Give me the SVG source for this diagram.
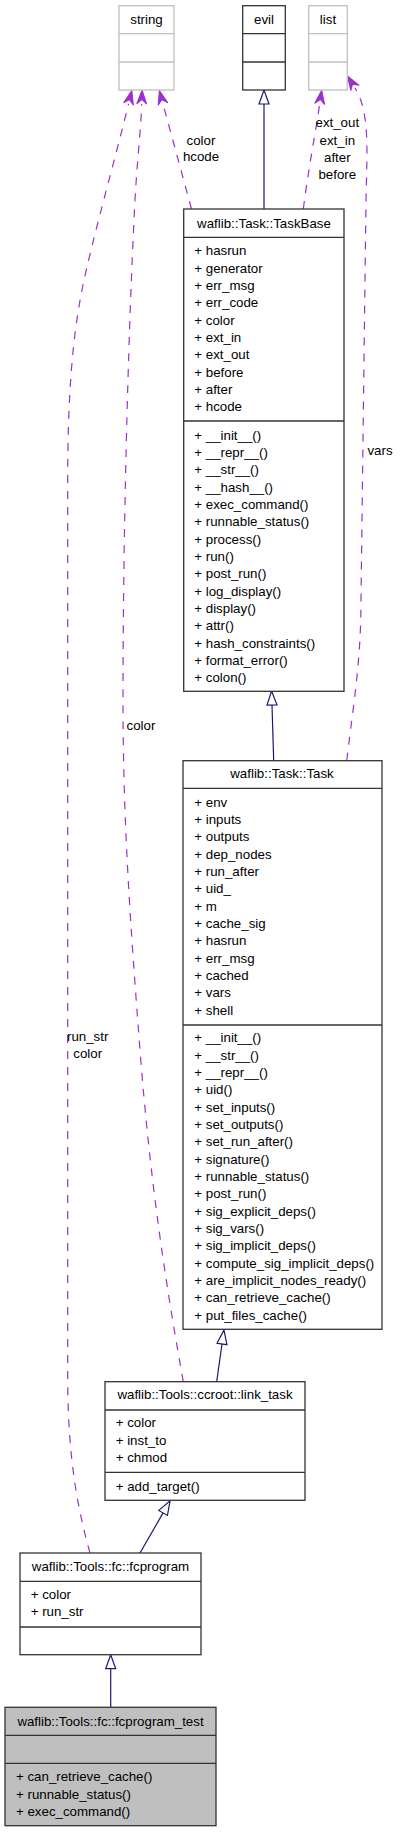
<svg xmlns="http://www.w3.org/2000/svg" width="400" height="1832" viewBox="0 0 400 1832">
<style>
text { font-family: "Liberation Sans", Arial, Helvetica, sans-serif; font-size: 13.3px; fill: #000; }
.c { text-anchor: middle; }
.box { fill: #fff; stroke: #333; stroke-width: 1.3; }
.sep { stroke: #333; stroke-width: 1.3; }
.gbox { fill: #fff; stroke: #bfbfbf; stroke-width: 1.3; }
.gsep { stroke: #bfbfbf; stroke-width: 1.3; }
.test { fill: #bfbfbf; stroke: #333; stroke-width: 1.3; }
.inh { fill: none; stroke: #191970; stroke-width: 1.2; }
.use { fill: none; stroke: #9a32cd; stroke-width: 1.2; stroke-dasharray: 8,8; }
</style>
<defs>
<marker id="hollow" markerUnits="userSpaceOnUse" markerWidth="16" markerHeight="12" refX="0" refY="6" orient="auto" overflow="visible">
<polygon points="0,1 14,6 0,11" fill="#fff" stroke="#191970" stroke-width="1.2"/>
</marker>
<marker id="vee" markerUnits="userSpaceOnUse" markerWidth="16" markerHeight="12" refX="0" refY="6" orient="auto" overflow="visible">
<polygon points="0,1 14,6 0,11 4.5,6" fill="#9a32cd" stroke="#9a32cd" stroke-width="1"/>
</marker>
</defs>

<g id="connectors">
<path class="inh" d="M264,209 L264,104" marker-end="url(#hollow)"/>
<path class="inh" d="M273.7,760.7 L272,705" marker-end="url(#hollow)"/>
<path class="inh" d="M216.7,1381.7 L222,1344" marker-end="url(#hollow)"/>
<path class="inh" d="M140,1553 L163.1,1512.9" marker-end="url(#hollow)"/>
<path class="inh" d="M110.7,1707.3 L110.7,1668.7" marker-end="url(#hollow)"/>

<path class="use" d="M191.5,209 L163,104" marker-end="url(#vee)"/>
<path class="use" d="M303.3,209 C309,165 316,130 319.7,104" marker-end="url(#vee)"/>
<path class="use" d="M346.7,760.7 C354,700 361,660 361,600 L366,200 C367,150 370,112 355,88" marker-end="url(#vee)"/>
<path class="use" d="M183.3,1381.7 C165,1280 150,1180 140,1050 C130,920 123,820 123,700 C123,500 130,300 134,220 C136,170 141,130 141.7,104" marker-end="url(#vee)"/>
<path class="use" d="M90,1553 C78,1510 68,1460 67.7,1380 L67.7,480 C67.7,400 72,340 82,290 C92,240 115,160 128.5,104" marker-end="url(#vee)"/>

<text class="c" x="201" y="144.7">color</text>
<text class="c" x="201" y="161.4">hcode</text>
<text class="c" x="337.3" y="127.4">ext_out</text>
<text class="c" x="337.3" y="144.7">ext_in</text>
<text class="c" x="337.3" y="161.7">after</text>
<text class="c" x="337.3" y="179">before</text>
<text class="c" x="380" y="455">vars</text>
<text class="c" x="141" y="730.4">color</text>
<text class="c" x="87.7" y="1040.7">run_str</text>
<text class="c" x="87.7" y="1057.7">color</text>
</g>

<g id="node-string">
<rect class="gbox" x="119" y="5.7" width="55" height="84.3"/>
<line class="gsep" x1="119" y1="33.7" x2="174" y2="33.7"/>
<line class="gsep" x1="119" y1="62" x2="174" y2="62"/>
<text class="c" x="146.5" y="23.5">string</text>
</g>

<g id="node-evil">
<rect class="box" x="242.7" y="5.7" width="42.6" height="84.3"/>
<line class="sep" x1="242.7" y1="33.7" x2="285.3" y2="33.7"/>
<line class="sep" x1="242.7" y1="62" x2="285.3" y2="62"/>
<text class="c" x="264" y="23.5">evil</text>
</g>

<g id="node-list">
<rect class="gbox" x="308.7" y="5.7" width="38.6" height="84.3"/>
<line class="gsep" x1="308.7" y1="33.7" x2="347.3" y2="33.7"/>
<line class="gsep" x1="308.7" y1="62" x2="347.3" y2="62"/>
<text class="c" x="328" y="23.5">list</text>
</g>

<g id="node-TaskBase">
<rect class="box" x="183.7" y="209" width="160.3" height="482.3"/>
<line class="sep" x1="183.7" y1="237.3" x2="344" y2="237.3"/>
<line class="sep" x1="183.7" y1="421" x2="344" y2="421"/>
<text class="c" x="264" y="227.5">waflib::Task::TaskBase</text>
<text x="194.3" y="255.4"><tspan x="194.3">+ hasrun</tspan><tspan x="194.3" dy="17.33">+ generator</tspan><tspan x="194.3" dy="17.33">+ err_msg</tspan><tspan x="194.3" dy="17.33">+ err_code</tspan><tspan x="194.3" dy="17.33">+ color</tspan><tspan x="194.3" dy="17.33">+ ext_in</tspan><tspan x="194.3" dy="17.33">+ ext_out</tspan><tspan x="194.3" dy="17.33">+ before</tspan><tspan x="194.3" dy="17.33">+ after</tspan><tspan x="194.3" dy="17.33">+ hcode</tspan></text>
<text x="194.3" y="439.7"><tspan x="194.3">+ __init__()</tspan><tspan x="194.3" dy="17.33">+ __repr__()</tspan><tspan x="194.3" dy="17.33">+ __str__()</tspan><tspan x="194.3" dy="17.33">+ __hash__()</tspan><tspan x="194.3" dy="17.33">+ exec_command()</tspan><tspan x="194.3" dy="17.33">+ runnable_status()</tspan><tspan x="194.3" dy="17.33">+ process()</tspan><tspan x="194.3" dy="17.33">+ run()</tspan><tspan x="194.3" dy="17.33">+ post_run()</tspan><tspan x="194.3" dy="17.33">+ log_display()</tspan><tspan x="194.3" dy="17.33">+ display()</tspan><tspan x="194.3" dy="17.33">+ attr()</tspan><tspan x="194.3" dy="17.33">+ hash_constraints()</tspan><tspan x="194.3" dy="17.33">+ format_error()</tspan><tspan x="194.3" dy="17.33">+ colon()</tspan></text>
</g>

<g id="node-Task">
<rect class="box" x="183" y="760.7" width="199" height="568.6"/>
<line class="sep" x1="183" y1="788.3" x2="382" y2="788.3"/>
<line class="sep" x1="183" y1="1025" x2="382" y2="1025"/>
<text class="c" x="282" y="778">waflib::Task::Task</text>
<text x="194.3" y="806.7"><tspan x="194.3">+ env</tspan><tspan x="194.3" dy="17.33">+ inputs</tspan><tspan x="194.3" dy="17.33">+ outputs</tspan><tspan x="194.3" dy="17.33">+ dep_nodes</tspan><tspan x="194.3" dy="17.33">+ run_after</tspan><tspan x="194.3" dy="17.33">+ uid_</tspan><tspan x="194.3" dy="17.33">+ m</tspan><tspan x="194.3" dy="17.33">+ cache_sig</tspan><tspan x="194.3" dy="17.33">+ hasrun</tspan><tspan x="194.3" dy="17.33">+ err_msg</tspan><tspan x="194.3" dy="17.33">+ cached</tspan><tspan x="194.3" dy="17.33">+ vars</tspan><tspan x="194.3" dy="17.33">+ shell</tspan></text>
<text x="194.3" y="1042.4"><tspan x="194.3">+ __init__()</tspan><tspan x="194.3" dy="17.33">+ __str__()</tspan><tspan x="194.3" dy="17.33">+ __repr__()</tspan><tspan x="194.3" dy="17.33">+ uid()</tspan><tspan x="194.3" dy="17.33">+ set_inputs()</tspan><tspan x="194.3" dy="17.33">+ set_outputs()</tspan><tspan x="194.3" dy="17.33">+ set_run_after()</tspan><tspan x="194.3" dy="17.33">+ signature()</tspan><tspan x="194.3" dy="17.33">+ runnable_status()</tspan><tspan x="194.3" dy="17.33">+ post_run()</tspan><tspan x="194.3" dy="17.33">+ sig_explicit_deps()</tspan><tspan x="194.3" dy="17.33">+ sig_vars()</tspan><tspan x="194.3" dy="17.33">+ sig_implicit_deps()</tspan><tspan x="194.3" dy="17.33">+ compute_sig_implicit_deps()</tspan><tspan x="194.3" dy="17.33">+ are_implicit_nodes_ready()</tspan><tspan x="194.3" dy="17.33">+ can_retrieve_cache()</tspan><tspan x="194.3" dy="17.33">+ put_files_cache()</tspan></text>
</g>

<g id="node-link_task">
<rect class="box" x="105" y="1381.7" width="200" height="118.6"/>
<line class="sep" x1="105" y1="1410" x2="305" y2="1410"/>
<line class="sep" x1="105" y1="1472.3" x2="305" y2="1472.3"/>
<text class="c" x="205" y="1399.4">waflib::Tools::ccroot::link_task</text>
<text x="115.7" y="1427.4"><tspan x="115.7">+ color</tspan><tspan x="115.7" dy="17.33">+ inst_to</tspan><tspan x="115.7" dy="17.33">+ chmod</tspan></text>
<text x="115.7" y="1490.7">+ add_target()</text>
</g>

<g id="node-fcprogram">
<rect class="box" x="20" y="1553" width="181" height="101.7"/>
<line class="sep" x1="20" y1="1581.3" x2="201" y2="1581.3"/>
<line class="sep" x1="20" y1="1627" x2="201" y2="1627"/>
<text class="c" x="110.5" y="1571.4">waflib::Tools::fc::fcprogram</text>
<text x="30.7" y="1599"><tspan x="30.7">+ color</tspan><tspan x="30.7" dy="17.33">+ run_str</tspan></text>
</g>

<g id="node-fcprogram_test">
<rect class="test" x="5" y="1707.3" width="211" height="118.4"/>
<line class="sep" x1="5" y1="1735.3" x2="216" y2="1735.3"/>
<line class="sep" x1="5" y1="1763.3" x2="216" y2="1763.3"/>
<text class="c" x="110.5" y="1725.7">waflib::Tools::fc::fcprogram_test</text>
<text x="16" y="1781.4"><tspan x="16">+ can_retrieve_cache()</tspan><tspan x="16" dy="17.33">+ runnable_status()</tspan><tspan x="16" dy="17.33">+ exec_command()</tspan></text>
</g>
</svg>
